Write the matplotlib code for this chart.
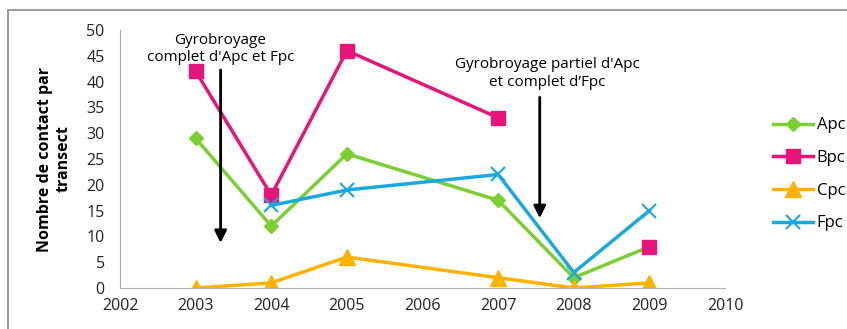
import numpy as np
import matplotlib.pyplot as plt
from matplotlib.patches import Rectangle

# Années de relevé (pas de relevé en 2006)
annees = [2003, 2004, 2005, 2007, 2008, 2009]
apc = [29, 12, 26, 17, 2, 8]
bpc = [42, 18, 46, 33, np.nan, 8]
cpc = [0, 1, 6, 2, 0, 1]
fpc = [np.nan, 16, 19, 22, 3, 15]

plt.rcParams['font.family'] = ['Open Sans', 'DejaVu Sans']

fig = plt.figure(figsize=(8.47, 3.29), dpi=100)
ax = fig.add_axes([0.1417, 0.1246, 0.7143, 0.7842])

# cadre gris autour du graphique
fig.patches.append(Rectangle((8 / 847, -0.05), 1.1, 1 - 10 / 329 + 0.05,
                             transform=fig.transFigure, fill=False,
                             edgecolor='#8c8c8c', linewidth=1.2))

ax.plot(annees, apc, color='#7ccf33', marker='D', markersize=7, linewidth=2.5, label='Apc')
ax.plot(annees, bpc, color='#e5157a', marker='s', markersize=10, linewidth=2.5, label='Bpc')
ax.plot(annees, cpc, color='#ffb300', marker='^', markersize=12, linewidth=2.5, label='Cpc')
ax.plot(annees, fpc, color='#19a9dc', marker='x', markersize=10, markeredgewidth=1.5,
        linewidth=2.5, label='Fpc')

ax.set_xlim(2002, 2010)
ax.set_ylim(0, 50)
ax.set_xticks(range(2002, 2011))
ax.set_yticks(range(0, 51, 5))
ax.tick_params(length=0, labelsize=11.5, colors='#222222', pad=7)
ax.tick_params(axis='y', pad=11)
for s in ['top', 'right']:
    ax.spines[s].set_visible(False)
for s in ['left', 'bottom']:
    ax.spines[s].set_color('#b0b0b0')
ax.set_ylabel("Nombre de contact par\ntransect", fontsize=11.5, fontweight='bold', labelpad=11)

# interventions de gyrobroyage
ax.annotate('', xy=(2003.33, 8.2), xytext=(2003.33, 42.8),
            arrowprops=dict(arrowstyle='-|>', color='black', lw=2, mutation_scale=18))
ax.text(2003.33, 46.3, "Gyrobroyage\ncomplet d'Apc et Fpc", ha='center', va='center',
        fontsize=11, linespacing=1.25)
ax.annotate('', xy=(2007.55, 13), xytext=(2007.55, 37.5),
            arrowprops=dict(arrowstyle='-|>', color='black', lw=2, mutation_scale=18))
ax.text(2007.65, 41.5, "Gyrobroyage partiel d'Apc\net complet d’Fpc", ha='center', va='center',
        fontsize=11, linespacing=1.25)

ax.legend(loc='center left', bbox_to_anchor=(1.055, 0.44), frameon=False, fontsize=12,
          handlelength=2.4, labelspacing=1.0, handletextpad=0.2)

fig.savefig('out.png', dpi=100)
